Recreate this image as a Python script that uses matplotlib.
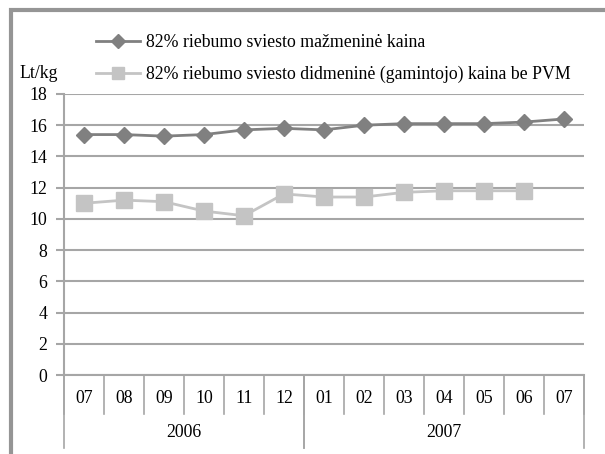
import numpy as np
import matplotlib.pyplot as plt
from matplotlib.patches import Rectangle
from matplotlib.lines import Line2D

months = ["07", "08", "09", "10", "11", "12", "01", "02", "03", "04", "05", "06", "07"]
years = ["2006", "2007"]
year_counts = [6, 7]
retail = [15.4, 15.4, 15.3, 15.4, 15.7, 15.8, 15.7, 16.0, 16.1, 16.1, 16.1, 16.2, 16.4]
wholesale = [11.0, 11.2, 11.1, 10.5, 10.2, 11.6, 11.4, 11.4, 11.7, 11.8, 11.8, 11.8, np.nan]
label_retail = "82% riebumo sviesto mažmeninė kaina"
label_whole = "82% riebumo sviesto didmeninė (gamintojo) kaina be PVM"

plt.rcParams['font.family'] = ['Liberation Serif', 'DejaVu Serif']
plt.rcParams['font.size'] = 12.8

c_dark = '#808080'
c_light = '#c4c4c4'
c_grid = '#a6a6a6'

fig = plt.figure(figsize=(6.05, 4.54), dpi=100)
ax = fig.add_axes([0.1058, 0.174, 0.8595, 0.619])

x = np.arange(len(months))
ax.plot(x, retail, color=c_dark, lw=2, marker='D', ms=8.5, mec=c_dark, mfc=c_dark, zorder=3)
ax.plot(x, wholesale, color=c_light, lw=2, marker='s', ms=11, mec=c_light, mfc=c_light, zorder=3)

ax.set_xlim(-0.5, len(months) - 0.5)
ax.set_ylim(0, 18)
ax.set_yticks(np.arange(0, 19, 2))
ax.yaxis.grid(True, color=c_grid, lw=1.5)
ax.set_axisbelow(True)
for s in ['top', 'right']:
    ax.spines[s].set_visible(False)
ax.spines['left'].set_color(c_grid)
ax.spines['bottom'].set_color(c_grid)
ax.spines['left'].set_linewidth(1.5)
ax.spines['bottom'].set_linewidth(1.5)
ax.tick_params(axis='y', length=6, width=1.5, color=c_grid, pad=6)

# two-level category axis
ax.set_xticks(x)
ax.set_xticklabels(months)
ax.tick_params(axis='x', length=0, pad=11)
tr = ax.get_xaxis_transform()
for b in np.arange(len(months) + 1) - 0.5:
    ax.plot([b, b], [0, -0.14], transform=tr, color=c_grid, lw=1.2, clip_on=False)
start = -0.5
for yr, n in zip(years, year_counts):
    end = start + n
    ax.plot([start, start], [0, -0.26], transform=tr, color=c_grid, lw=1.2, clip_on=False)
    ax.plot([end, end], [0, -0.26], transform=tr, color=c_grid, lw=1.2, clip_on=False)
    ax.text((start + end) / 2, -0.205, yr, transform=tr, ha='center', va='center')
    start = end

# legend
h1 = Line2D([], [], color=c_dark, lw=2, marker='D', ms=7, mfc=c_dark, mec=c_dark)
h2 = Line2D([], [], color=c_light, lw=2, marker='s', ms=9, mfc=c_light, mec=c_light)
fig.legend([h1, h2], [label_retail, label_whole], loc='upper left',
           bbox_to_anchor=(0.147, 0.94), frameon=False, handlelength=2.5,
           handletextpad=0.3, labelspacing=0.8, borderaxespad=0)

fig.text(0.033, 0.838, "Lt/kg", ha='left', va='center')

# outer frame
fig.patches.append(Rectangle((0.018, -0.1), 1.2, 1.078, transform=fig.transFigure,
                             fill=False, ec='#959595', lw=3))

fig.savefig("out.png", dpi=100)
